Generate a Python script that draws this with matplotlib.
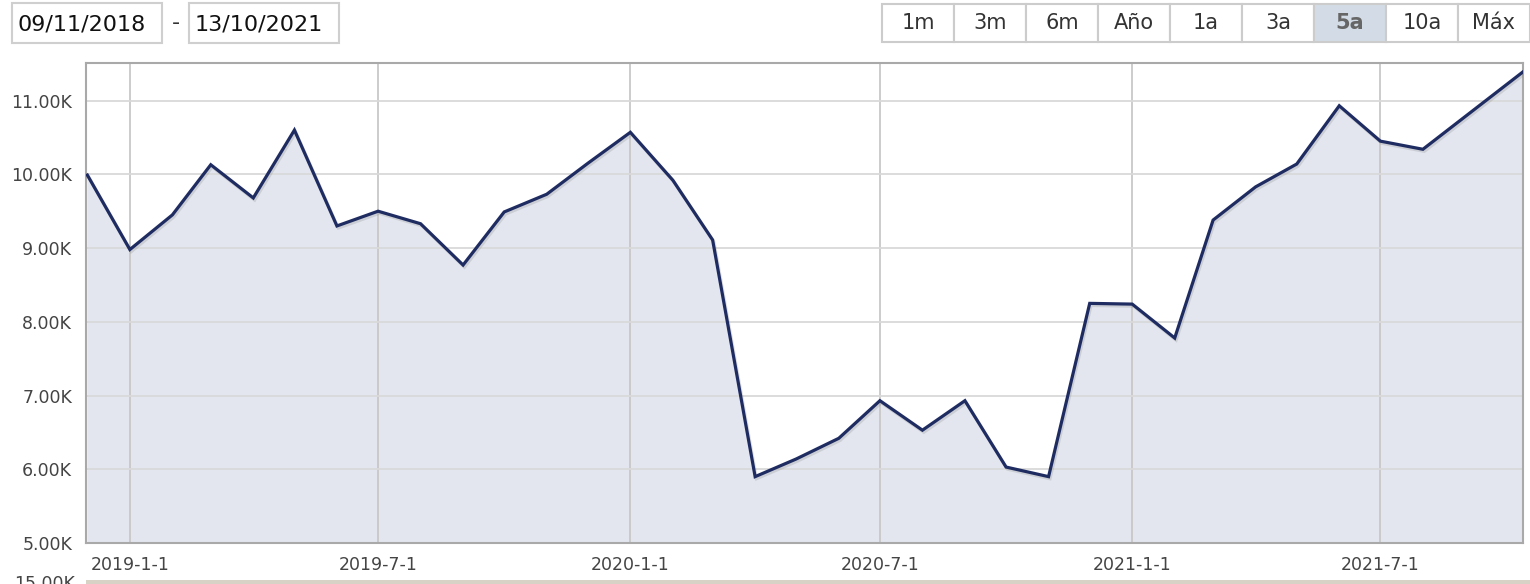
import datetime as dt

import matplotlib

matplotlib.use("Agg")
import matplotlib.dates as mdates
import matplotlib.patheffects as pe
import matplotlib.pyplot as plt
from matplotlib.patches import Rectangle

# monthly values (thousands)
dates = [
    "2018-12-01", "2019-01-01", "2019-02-01", "2019-03-01", "2019-04-01",
    "2019-05-01", "2019-06-01", "2019-07-01", "2019-08-01", "2019-09-01",
    "2019-10-01", "2019-11-01", "2019-12-01", "2020-01-01", "2020-02-01",
    "2020-03-01", "2020-04-01", "2020-05-01", "2020-06-01", "2020-07-01",
    "2020-08-01", "2020-09-01", "2020-10-01", "2020-11-01", "2020-12-01",
    "2021-01-01", "2021-02-01", "2021-03-01", "2021-04-01", "2021-05-01",
    "2021-06-01", "2021-07-01", "2021-08-01", "2021-10-13",
]
values = [
    9.99, 8.98, 9.45, 10.13, 9.68,
    10.60, 9.30, 9.50, 9.33, 8.77,
    9.49, 9.73, 10.15, 10.57, 9.92,
    9.11, 5.90, 6.14, 6.42, 6.93,
    6.53, 6.93, 6.03, 5.90, 8.25,
    8.24, 7.78, 9.38, 9.83, 10.14,
    10.93, 10.45, 10.34, 11.39,
]
x_ticks = ["2019-01-01", "2019-07-01", "2020-01-01", "2020-07-01", "2021-01-01", "2021-07-01"]
y_ticks = [5, 6, 7, 8, 9, 10, 11]
date_from = "09/11/2018"
date_to = "13/10/2021"
buttons = ["1m", "3m", "6m", "Año", "1a", "3a", "5a", "10a", "Máx"]
active = "5a"

W, H = 1530, 584
x = [dt.datetime.strptime(d, "%Y-%m-%d") for d in dates]
xt = [dt.datetime.strptime(d, "%Y-%m-%d") for d in x_ticks]

fig = plt.figure(figsize=(W / 100, H / 100), dpi=100)
ax = fig.add_axes([86 / W, 1 - 543 / H, (1523 - 86) / W, (543 - 63) / H])

ax.fill_between(x, values, 0, color="#e3e6ef", lw=0, zorder=1)
ax.plot(
    x, values, color="#1f2c62", lw=2.3, zorder=3, solid_joinstyle="miter",
    path_effects=[pe.SimpleLineShadow(offset=(1, -1.5), shadow_color="#888", alpha=0.25), pe.Normal()],
)

ax.set_xlim(dt.datetime(2018, 11, 30), dt.datetime(2021, 10, 13))
ax.set_ylim(5, 11.51)
ax.set_xticks(xt)
ax.set_xticklabels([f"{d.year}-{d.month}-{d.day}" for d in xt])
ax.set_yticks(y_ticks)
ax.set_yticklabels([f"{v:.2f}K" for v in y_ticks])
ax.tick_params(length=0, labelsize=12.5, labelcolor="#444444")
ax.tick_params(axis="x", pad=9)
ax.tick_params(axis="y", pad=10)

ax.set_axisbelow("line")
ax.grid(axis="y", color="#d9d9d9", lw=1.3, zorder=2)
ax.grid(axis="x", color="#c8c8c8", lw=1.3, zorder=2)
for s in ax.spines.values():
    s.set_color("#a9a9a9")
    s.set_linewidth(1.5)

# overlay in pixel coords for the range controls
ov = fig.add_axes([0, 0, 1, 1], zorder=-1)
ov.set_xlim(0, W)
ov.set_ylim(H, 0)
ov.axis("off")

for x0, txt in [(12, date_from), (189, date_to)]:
    ov.add_patch(Rectangle((x0, 3), 150, 40, fc="white", ec="#cfcfcf", lw=1.5))
    ov.text(x0 + 6, 24, txt, fontsize=16, color="#111111", va="center", ha="left")
ov.text(176, 23, "-", fontsize=16, color="#333333", va="center", ha="center")

bx0, bw = 882, 72
for i, b in enumerate(buttons):
    on = b == active
    ov.add_patch(Rectangle((bx0 + i * bw, 4), bw, 38, fc="#d3dce6" if on else "white",
                           ec="#cccccc", lw=1.5))
    ov.text(bx0 + i * bw + bw / 2, 23, b, fontsize=15, ha="center", va="center",
            color="#666666" if on else "#333333", fontweight="bold" if on else "normal")

# navigator strip cut off at the bottom
ov.add_patch(Rectangle((86, 580), W - 86, 6, fc="#d8d1c5", ec="none"))
ov.text(75, 584, "15.00K", fontsize=12.5, color="#444444", ha="right", va="center")

fig.savefig("out.png", dpi=100)
